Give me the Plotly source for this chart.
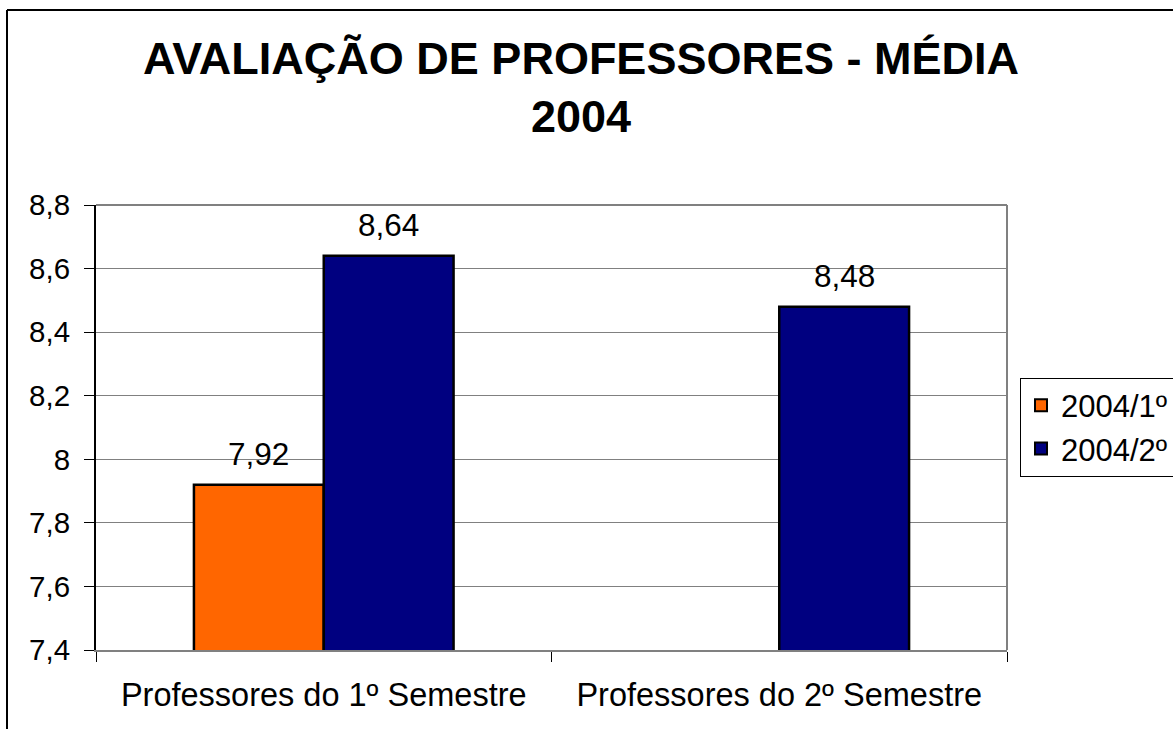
import plotly.graph_objects as go

categories = ["Professores do 1º Semestre", "Professores do 2º Semestre"]
series_names = ["2004/1º", "2004/2º"]
values_s1 = [7.92, None]
values_s2 = [8.64, 8.48]
colors = ["#FF6600", "#000080"]

FONT = "Liberation Sans, Arial, sans-serif"
W, H = 1173, 729
L, R, T, B = 96, 166, 205, 79
BARGAP = 0.43

pw = W - L - R
ph = H - T - B

fig = go.Figure()
for name, vals, col in zip(series_names, [values_s1, values_s2], colors):
    fig.add_trace(go.Bar(
        x=categories, y=vals, name=name,
        marker=dict(color=col, line=dict(color="black", width=2.5)),
    ))

# data labels above bars (offset to each bar's position within its group)
cat_px = pw / len(categories)
bar_px = cat_px * (1 - BARGAP) / len(series_names)
for i, vals in enumerate([values_s1, values_s2]):
    shift = (i - (len(series_names) - 1) / 2) * bar_px
    for c, v in zip(categories, vals):
        if v is None:
            continue
        fig.add_annotation(x=c, y=v, xref="x", yref="y", xshift=shift, yshift=31,
                           text=f"{v:.2f}".replace(".", ","), showarrow=False,
                           font=dict(family=FONT, size=31.5, color="black"))

fig.update_layout(
    width=W, height=H,
    margin=dict(l=L, r=R, t=T, b=B, autoexpand=False),
    paper_bgcolor="white", plot_bgcolor="white",
    separators=",.",
    barmode="group", bargap=BARGAP, bargroupgap=0,
    font=dict(family=FONT, size=30, color="black"),
    title=dict(text="<b>AVALIAÇÃO DE PROFESSORES - MÉDIA<br>2004</b>",
               x=0.4953, xanchor="center", y=0.8985, yanchor="middle",
               font=dict(family=FONT, size=45, color="black")),
    legend=dict(x=(1020 - L) / pw, xanchor="left", y=(H - B - 427) / ph, yanchor="middle",
                bordercolor="black", borderwidth=1, bgcolor="white",
                font=dict(family=FONT, size=31, color="black"),
                tracegroupgap=0, itemsizing="constant"),
    xaxis=dict(showgrid=False, tickson="boundaries", ticks="outside", ticklen=10,
               tickcolor="black", showline=True, linecolor="#808080", linewidth=2,
               automargin=False, ticklabelstandoff=15,
               tickfont=dict(family=FONT, size=32.5, color="black")),
    yaxis=dict(range=[7.4, 8.8], dtick=0.2, tick0=7.4, showgrid=True, gridcolor="#808080",
               gridwidth=1, ticks="outside", ticklen=10, tickcolor="black",
               showline=True, linecolor="black", linewidth=2, zeroline=False,
               automargin=False, ticklabelstandoff=8,
               tickfont=dict(family=FONT, size=29.5, color="black")),
    showlegend=True,
)

# plot-area border (top and right, gray)
fig.add_shape(type="line", xref="paper", yref="paper", x0=0, x1=1, y0=1, y1=1,
              line=dict(color="#808080", width=2))
fig.add_shape(type="line", xref="paper", yref="paper", x0=1, x1=1, y0=0, y1=1,
              line=dict(color="#808080", width=2))
# chart outer border (left and top visible)
top_y = (H - B - 10) / ph
left_x = (7 - L) / pw
fig.add_shape(type="line", xref="paper", yref="paper",
              x0=left_x, x1=2, y0=top_y, y1=top_y, line=dict(color="black", width=2))
fig.add_shape(type="line", xref="paper", yref="paper",
              x0=left_x, x1=left_x, y0=-1, y1=top_y, line=dict(color="black", width=2))

fig.write_html("out.html", config={"displayModeBar": False},
               post_script="document.body.style.margin='0';")
